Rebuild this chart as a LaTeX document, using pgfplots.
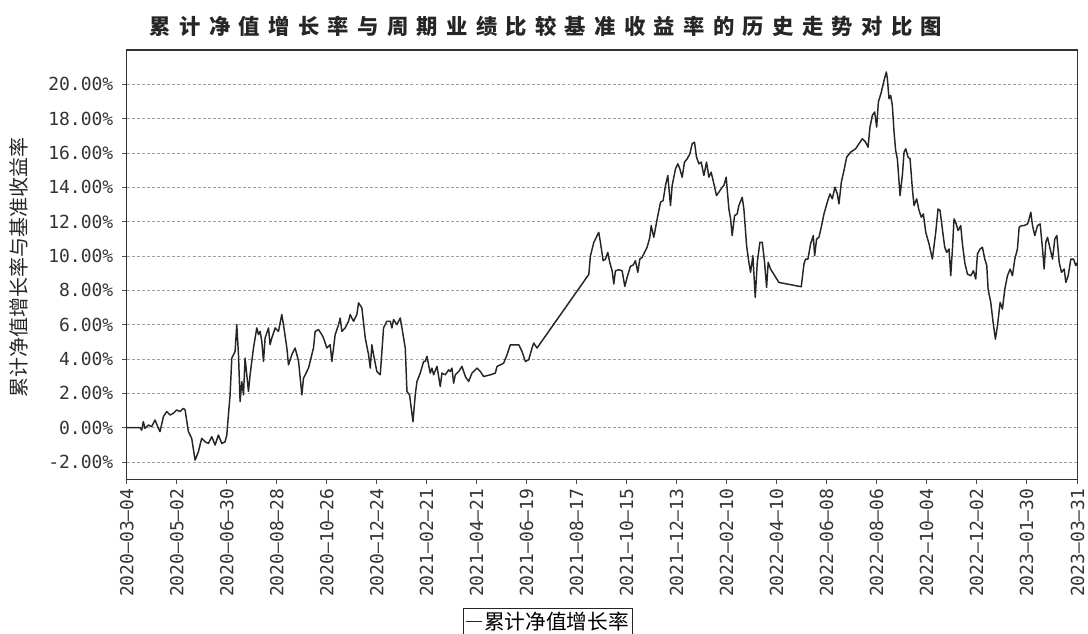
\documentclass[border=0pt]{standalone}
\usepackage{fontspec}
\usepackage{pgfplots}
\pgfplotsset{compat=1.18}
\setmainfont{DejaVu Sans}
\newfontfamily\cjk{Noto Sans CJK SC}
\newfontfamily\cjktitle[LetterSpace=39]{Noto Sans CJK SC}
\newfontfamily\mono{DejaVu Sans Mono}

\pgfplotstableread{
day val
0 0
15.7 0
17.7 -0.14
19.6 0.35
21.6 -0.04
25.6 0.16
29.5 0.06
33.4 0.45
37.4 -0.04
39.3 -0.23
43.3 0.64
47.2 0.94
51.1 0.74
55.1 0.84
59.0 1.03
63.0 0.94
66.9 1.13
68.9 1.03
72.8 -0.23
76.7 -0.62
80.7 -1.89
84.6 -1.40
88.5 -0.62
92.5 -0.82
96.4 -0.92
100.4 -0.53
104.3 -1.01
108.2 -0.43
112.2 -0.92
116.1 -0.82
118.1 -0.43
122.0 1.91
124.0 4.05
127.9 4.44
129.9 6.00
131.9 4.25
133.8 1.52
135.8 2.69
137.8 1.91
139.7 4.05
143.7 2.11
145.6 3.08
149.6 4.64
153.5 5.81
155.5 5.42
157.4 5.61
159.4 5.03
161.4 3.86
163.3 5.22
167.3 5.81
169.2 4.83
171.2 5.22
175.2 5.81
179.1 5.61
183.0 6.59
185.0 6.00
189.0 4.64
190.9 3.66
194.8 4.25
198.8 4.64
202.8 3.86
206.7 1.91
208.6 2.88
214.5 3.47
220.4 4.64
222.4 5.61
226.3 5.71
230.3 5.42
232.2 5.22
236.2 4.64
240.1 4.83
242.1 3.86
246.0 5.42
250.0 6.00
251.9 6.39
253.9 5.61
257.8 5.81
261.8 6.20
263.7 6.59
267.7 6.20
271.6 6.59
273.6 7.27
277.5 6.98
281.5 5.22
285.4 4.25
287.4 3.47
289.3 4.83
291.3 4.25
295.2 3.27
299.2 3.08
303.1 5.81
307.0 6.20
311.0 6.20
313.0 5.81
314.9 6.30
318.9 6.00
322.8 6.39
324.8 5.81
328.7 4.64
330.7 2.11
333.8 1.91
337.8 0.35
340.5 1.91
342.5 2.69
346.4 3.18
350.4 3.86
352.3 3.86
354.3 4.15
358.2 3.18
360.2 3.47
362.2 3.08
366.1 3.57
368.1 2.98
370.0 2.40
372.0 3.18
375.9 3.08
379.9 3.37
381.8 3.27
383.8 3.47
385.8 2.59
387.8 3.08
391.7 3.27
395.6 3.57
399.6 2.98
403.5 2.69
407.4 3.18
411.4 3.37
413.3 3.47
417.3 3.27
421.2 2.98
429.1 3.08
435.0 3.18
437.0 3.57
440.9 3.66
444.8 3.76
448.8 4.25
452.7 4.83
456.7 4.83
462.6 4.83
466.5 4.44
470.4 3.86
474.4 3.96
478.3 4.64
480.3 4.93
484.2 4.64
545.3 8.93
547.2 10.00
551.1 10.78
557.0 11.38
559.0 10.80
562.2 9.73
564.9 9.82
567.7 10.21
570.0 9.63
572.8 9.14
574.8 8.37
576.7 9.14
580.7 9.20
584.6 9.14
587.8 8.23
590.5 8.75
594.4 9.40
597.6 9.47
600.3 9.73
603.1 9.05
605.5 9.82
608.2 9.92
611.0 10.21
614.1 10.51
617.3 11.09
618.9 11.77
622.0 11.09
626.0 12.16
629.9 13.13
633.0 13.23
635.8 14.11
638.5 14.69
641.7 12.94
643.7 14.11
647.6 15.08
650.4 15.37
652.7 15.08
655.5 14.59
658.2 15.47
661.4 15.66
664.5 15.95
667.3 16.54
670.0 16.63
672.4 15.76
675.2 15.37
677.9 15.47
681.1 14.69
684.2 15.47
687.0 14.59
689.7 14.88
692.9 14.20
696.0 13.52
698.8 13.72
702.7 14.01
704.7 14.11
707.4 14.59
710.6 12.74
712.6 12.16
714.5 11.19
717.3 12.35
720.4 12.45
722.4 12.94
726.3 13.42
728.3 12.74
731.5 10.60
734.2 9.63
736.2 9.05
738.9 10.02
741.7 7.59
744.1 9.63
747.2 10.80
750.0 10.80
752.7 9.63
755.1 8.17
757.0 9.63
759.8 9.24
769.6 8.46
783.4 8.33
796.0 8.21
799.2 9.53
801.1 9.82
803.9 9.82
807.0 10.70
810.2 11.19
811.8 10.02
814.1 10.99
816.9 11.09
820.0 11.77
822.8 12.45
826.7 13.13
829.9 13.62
832.6 13.33
835.8 14.01
838.5 13.62
840.5 13.04
843.3 14.30
846.4 14.98
849.6 15.76
854.3 16.05
860.2 16.25
868.1 16.83
872.0 16.63
874.8 16.34
877.1 17.51
879.9 18.19
882.6 18.39
885.0 17.51
887.0 18.97
890.5 19.55
893.7 20.23
896.4 20.72
897.6 20.33
899.6 19.16
901.5 19.36
903.5 18.77
905.5 17.22
907.4 16.15
909.4 15.66
912.6 13.52
915.3 14.69
917.3 16.05
919.3 16.25
922.0 15.76
924.4 15.66
927.1 13.91
929.1 12.94
932.2 13.33
935.0 12.65
937.7 12.26
940.1 12.45
942.9 11.38
946.8 10.70
950.7 9.82
954.7 11.38
957.4 12.74
959.8 12.65
962.5 11.58
965.3 10.51
967.7 10.21
970.4 10.41
972.4 8.85
974.4 10.41
976.3 12.16
978.3 11.96
981.1 11.48
984.2 11.77
986.2 10.70
988.9 9.63
992.1 8.95
996.0 8.85
999.2 9.14
1001.9 8.66
1003.9 10.12
1007.0 10.41
1009.8 10.51
1012.6 9.82
1014.9 9.44
1016.5 8.07
1019.6 7.30
1022.4 6.13
1025.1 5.16
1027.5 5.93
1030.7 7.30
1033.4 6.91
1036.2 8.07
1039.3 8.85
1042.5 9.24
1045.2 8.85
1048.0 9.82
1051.1 10.41
1053.1 11.67
1055.9 11.77
1059.0 11.77
1063.0 11.87
1064.9 12.16
1066.9 12.55
1068.9 11.77
1071.6 11.19
1074.8 11.77
1077.9 11.87
1080.7 10.41
1082.6 9.24
1084.6 10.80
1086.6 11.09
1089.7 10.41
1092.5 9.82
1095.2 10.99
1097.6 11.19
1100.4 9.63
1103.1 9.05
1106.3 9.24
1108.2 8.46
1111.0 8.85
1114.1 9.82
1117.3 9.82
1120.0 9.44
1122.0 9.63
}\navtable

\begin{document}
\begin{tikzpicture}[x=0.75pt,y=0.75pt]
\useasboundingbox (0,0) rectangle (1088,634);
\begin{axis}[
  at={(95.03pt,116.1pt)}, anchor=south west,
  scale only axis,
  width=713.1pt, height=321.9pt,
  xmin=0, xmax=1122, ymin=-3, ymax=22,
  axis line style={line width=0.9pt, black!80},
  xtick={0,59,118,177,236,295,354,413,472,531,590,649,708,767,826,885,944,1003,1062,1122},
  xticklabels={2020–03–04,2020–05–02,2020–06–30,2020–08–28,2020–10–26,2020–12–24,2021–02–21,2021–04–21,2021–06–19,2021–08–17,2021–10–15,2021–12–13,2022–02–10,2022–04–10,2022–06–08,2022–08–06,2022–10–04,2022–12–02,2023–01–30,2023–03–31},
  ytick={-2,0,2,4,6,8,10,12,14,16,18,20},
  yticklabels={-2.00\%,0.00\%,2.00\%,4.00\%,6.00\%,8.00\%,10.00\%,12.00\%,14.00\%,16.00\%,18.00\%,20.00\%},
  tick label style={font=\mono\fontsize{13.5}{14}\selectfont, black!80},
  xticklabel style={rotate=90, anchor=east},
  yticklabel style={xshift=-3pt},
  tick align=outside, major tick length=3.5pt,
  xtick pos=bottom, ytick pos=left,
  tick style={black!70, line width=0.6pt},
  ymajorgrids=true,
  major grid style={gray!75, dash pattern=on 2.2pt off 1.6pt, line width=0.5pt},
  legend style={at={(0.443,-0.300)}, anchor=north, draw=black!85, line width=1pt,
    font=\cjk\fontsize{15.5}{16}\selectfont, inner sep=1pt, nodes={inner sep=1.5pt}},
  legend cell align=left,
  legend image code/.code={\draw[#1, line width=1.1pt] (0pt,0pt) -- (12pt,0pt);},
]
\addplot[black!85, line width=1.1pt, line join=round] table[x=day, y=val] {\navtable};
\addlegendentry{累计净值增长率}
\draw[black!70, line width=0.8pt] (rel axis cs:0,0) ++(-3.75pt,0) -- ++(0,321.9pt);
\end{axis}
\node[font=\cjktitle\bfseries\fontsize{16}{16}\selectfont, text=black!85] at (546,608) {累计净值增长率与周期业绩比较基准收益率的历史走势对比图};
\node[rotate=90, font=\cjk\fontsize{15}{15}\selectfont, text=black!85] at (19,366) {累计净值增长率与基准收益率};
\end{tikzpicture}
\end{document}
